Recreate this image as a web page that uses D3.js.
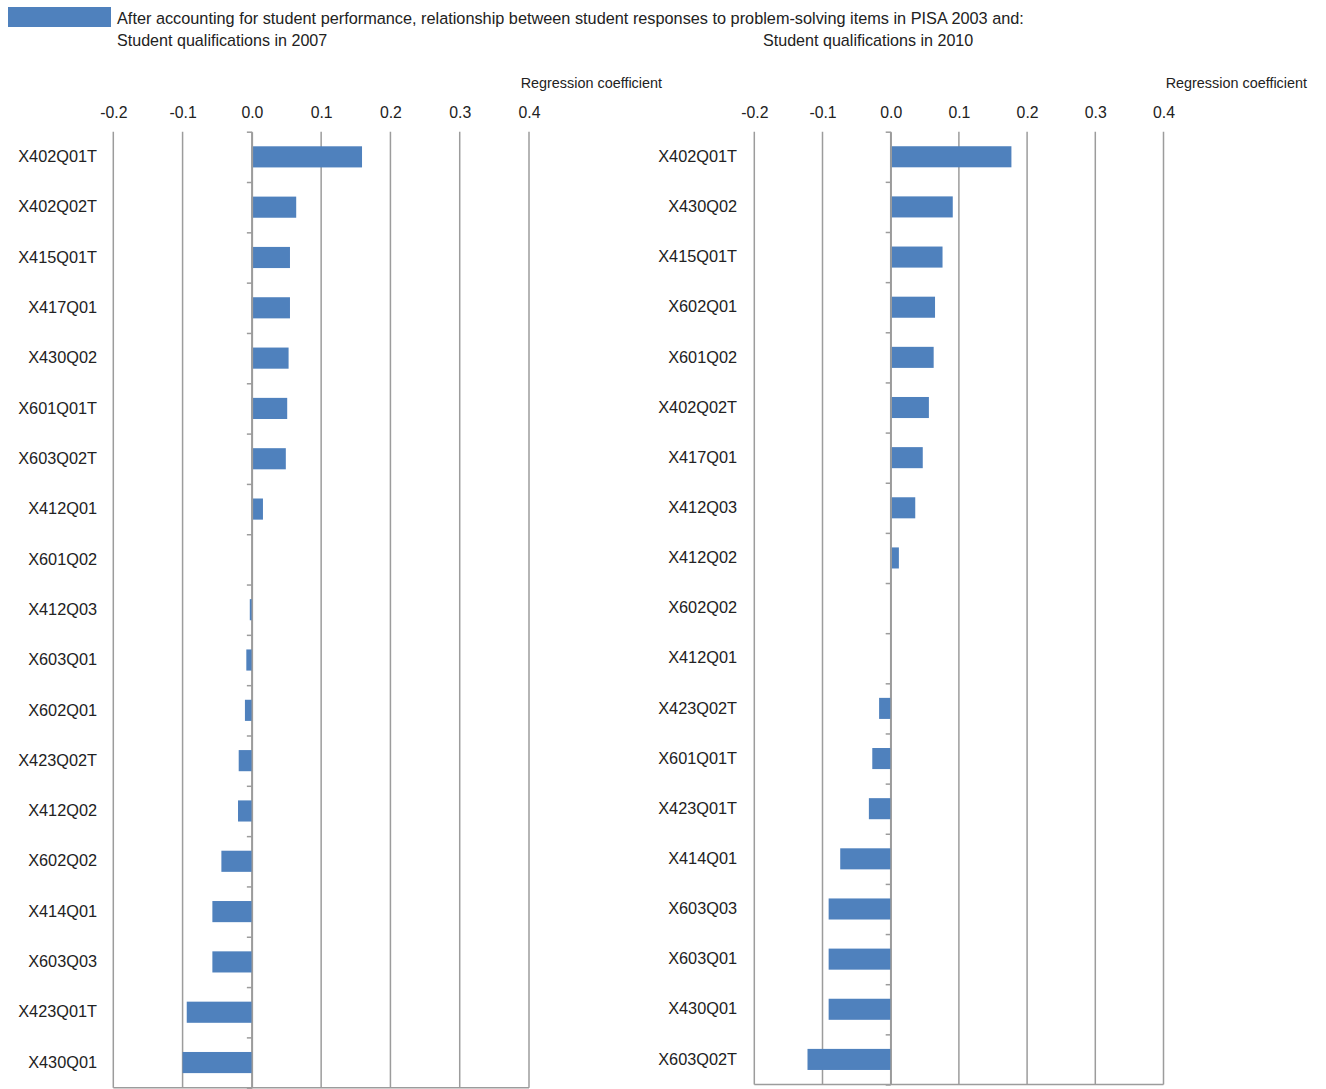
<!DOCTYPE html>
<html>
<head>
<meta charset="utf-8">
<script src="https://cdn.jsdelivr.net/npm/d3@7"></script>
<style>
  html, body { margin: 0; padding: 0; background: #fff; }
  svg { display: block; }
  text { font-family: Arial, "Liberation Sans", sans-serif; fill: #222; }
</style>
</head>
<body>
<svg id="chart" width="1326" height="1089"></svg>
<script>
// ---- Data ----
const titleLine = "After accounting for student performance, relationship between student responses to problem-solving items in PISA 2003 and:";
const panelTitles = ["Student qualifications in 2007", "Student qualifications in 2010"];
const axisTitle = "Regression coefficient";
const xTicks = [-0.2, -0.1, 0.0, 0.1, 0.2, 0.3, 0.4];

const items2007 = ["X402Q01T","X402Q02T","X415Q01T","X417Q01","X430Q02","X601Q01T","X603Q02T","X412Q01","X601Q02","X412Q03","X603Q01","X602Q01","X423Q02T","X412Q02","X602Q02","X414Q01","X603Q03","X423Q01T","X430Q01"];
const values2007 = [0.159, 0.064, 0.055, 0.055, 0.053, 0.051, 0.049, 0.016, 0.000, -0.003, -0.008, -0.010, -0.019, -0.020, -0.044, -0.057, -0.057, -0.094, -0.100];

const items2010 = ["X402Q01T","X430Q02","X415Q01T","X602Q01","X601Q02","X402Q02T","X417Q01","X412Q03","X412Q02","X602Q02","X412Q01","X423Q02T","X601Q01T","X423Q01T","X414Q01","X603Q03","X603Q01","X430Q01","X603Q02T"];
const values2010 = [0.177, 0.091, 0.076, 0.065, 0.063, 0.056, 0.047, 0.036, 0.012, 0.000, 0.000, -0.017, -0.027, -0.032, -0.074, -0.091, -0.091, -0.091, -0.122];

// ---- Styles ----
const barColor = "#4f81bd";
const gridColor = "#9c9c9c";
const fmt = d3.formatLocale({decimal: ".", thousands: ",", grouping: [3], currency: ["", ""], minus: "-"}).format(".1f");

const svg = d3.select("#chart");

// Legend + title
svg.append("rect").attr("x", 8).attr("y", 7).attr("width", 103).attr("height", 20).attr("fill", barColor);
svg.append("text").attr("x", 117).attr("y", 24).attr("font-size", 16.3).text(titleLine);

const panels = [
  {items: items2007, values: values2007, title: panelTitles[0], titleX: 117,
   x0: 113.3, x1: 529, top: 131.7, bottom: 1087.7, labelX: 97, axisTitleX: 662},
  {items: items2010, values: values2010, title: panelTitles[1], titleX: 763,
   x0: 754.3, x1: 1163.5, top: 131.7, bottom: 1084.5, labelX: 737, axisTitleX: 1307}
];

panels.forEach(p => {
  const g = svg.append("g");
  const x = d3.scaleLinear().domain([xTicks[0], xTicks[xTicks.length - 1]]).range([p.x0, p.x1]);
  const y = d3.scaleBand().domain(p.items).range([p.top, p.bottom]).paddingInner(0.58).paddingOuter(0.29);
  const yb = d3.scaleLinear().domain([0, p.items.length]).range([p.top, p.bottom]);

  g.append("text").attr("x", p.titleX).attr("y", 46).attr("font-size", 16.1).text(p.title);
  g.append("text").attr("x", p.axisTitleX).attr("y", 88).attr("font-size", 14.4)
    .attr("text-anchor", "end").text(axisTitle);

  // tick labels on top
  const ax = g.append("g").attr("transform", `translate(0,${p.top - 14})`)
    .call(d3.axisTop(x).tickValues(xTicks).tickFormat(fmt).tickSize(0).tickPadding(0));
  ax.select(".domain").remove();
  ax.selectAll("text").attr("font-size", 15.8).attr("font-family", "Arial, 'Liberation Sans', sans-serif").attr("fill", "#222");

  // gridlines
  g.append("g").selectAll("line").data(xTicks).join("line")
    .attr("x1", d => x(d)).attr("x2", d => x(d))
    .attr("y1", p.top).attr("y2", p.bottom)
    .attr("stroke", gridColor).attr("stroke-width", 1.5);

  // bottom line
  g.append("line").attr("x1", x(xTicks[0])).attr("x2", x(xTicks[xTicks.length - 1]))
    .attr("y1", p.bottom).attr("y2", p.bottom)
    .attr("stroke", gridColor).attr("stroke-width", 1.5);

  // bars
  g.append("g").selectAll("rect").data(p.items.map((c, i) => ({c, v: p.values[i]}))).join("rect")
    .attr("x", d => x(Math.min(0, d.v)))
    .attr("width", d => Math.abs(x(d.v) - x(0)))
    .attr("y", d => y(d.c))
    .attr("height", y.bandwidth())
    .attr("fill", barColor);

  // zero axis with boundary ticks
  const za = g.append("g").attr("transform", `translate(${x(0)},0)`)
    .call(d3.axisLeft(yb).tickValues(d3.range(p.items.length + 1)).tickFormat("").tickSizeInner(5).tickSizeOuter(0));
  za.selectAll("line").attr("stroke", gridColor).attr("stroke-width", 1.5);
  za.select(".domain").attr("stroke", gridColor).attr("stroke-width", 1.5);

  // category labels
  const ca = g.append("g").attr("transform", `translate(${p.labelX},0)`)
    .call(d3.axisLeft(y).tickSize(0).tickPadding(0));
  ca.select(".domain").remove();
  ca.selectAll("text").attr("font-size", 16.3).attr("font-family", "Arial, 'Liberation Sans', sans-serif").attr("fill", "#222");
});
</script>
</body>
</html>
